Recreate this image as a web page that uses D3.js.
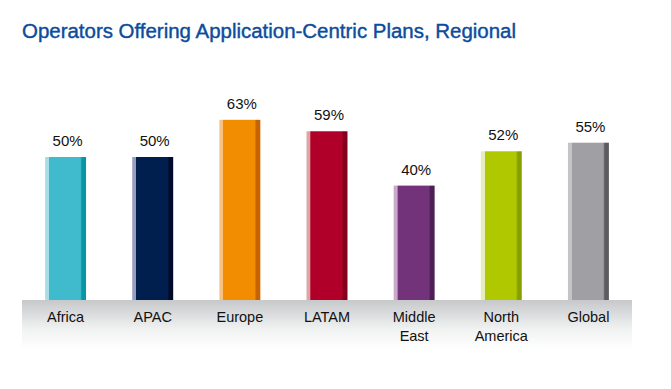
<!DOCTYPE html>
<html><head><meta charset="utf-8">
<script src="https://cdn.jsdelivr.net/npm/d3@7/dist/d3.min.js"></script>
<style>body{margin:0;background:#fff}svg{display:block}</style>
</head><body>
<svg id="c" width="671" height="389"></svg>
<script>
const categories = ["Africa","APAC","Europe","LATAM","Middle East","North America","Global"];
const categoryLines = [["Africa"],["APAC"],["Europe"],["LATAM"],["Middle","East"],["North","America"],["Global"]];
const values = [50,50,63,59,40,52,55];
const mainColors = ["#3fbbcd","#001f4f","#f28c00","#b0002a","#72337a","#afc800","#a0a0a4"];
const lightColors = ["#a9dde5","#9a9cbf","#f7c27f","#dfa5a5","#c9aac9","#e6eebf","#c4c4c7"];
const darkColors = ["#0a95a5","#000b2c","#c86400","#82001c","#4e1f55","#86a000","#5c5c60"];

const svg = d3.select("#c");
const x = d3.scaleBand().domain(categories).range([22,632]).paddingInner(0.53).paddingOuter(0.265);
const y = d3.scaleLinear().domain([0,100]).range([300,14]);

const defs = svg.append("defs");
const bg = defs.append("linearGradient").attr("id","band").attr("x1",0).attr("y1",0).attr("x2",0).attr("y2",1);
bg.append("stop").attr("offset",0).attr("stop-color","#c7c8ca");
bg.append("stop").attr("offset",0.6).attr("stop-color","#f1f2f2");
bg.append("stop").attr("offset",1).attr("stop-color","#ffffff");

categories.forEach((c,i)=>{
  const g = defs.append("linearGradient").attr("id","g"+i).attr("x1",0).attr("x2",1).attr("y1",0).attr("y2",0);
  g.append("stop").attr("offset",0).attr("stop-color",lightColors[i]);
  g.append("stop").attr("offset",0.09).attr("stop-color",lightColors[i]);
  g.append("stop").attr("offset",0.1).attr("stop-color",mainColors[i]);
  g.append("stop").attr("offset",0.86).attr("stop-color",mainColors[i]);
  g.append("stop").attr("offset",0.9).attr("stop-color",darkColors[i]);
  g.append("stop").attr("offset",1).attr("stop-color",darkColors[i]);
});

svg.append("text").attr("x",22).attr("y",38)
  .attr("font-family","Liberation Sans, Arial, sans-serif").attr("font-size",20)
  .attr("fill","#0b4c9c").attr("stroke","#0b4c9c").attr("stroke-width",0.4)
  .attr("textLength",494).attr("lengthAdjust","spacingAndGlyphs")
  .text("Operators Offering Application-Centric Plans, Regional");

svg.append("rect").attr("x",22).attr("y",300).attr("width",610).attr("height",49).attr("fill","url(#band)");

svg.selectAll("rect.bar").data(values).join("rect").attr("class","bar")
  .attr("x",(d,i)=>x(categories[i])).attr("width",x.bandwidth())
  .attr("y",d=>y(d)).attr("height",d=>y(0)-y(d))
  .attr("fill",(d,i)=>"url(#g"+i+")");

svg.selectAll("text.val").data(values).join("text").attr("class","val")
  .attr("x",(d,i)=>x(categories[i])+x.bandwidth()/2+2).attr("y",d=>y(d)-11)
  .attr("text-anchor","middle").attr("font-family","Liberation Sans, Arial, sans-serif")
  .attr("font-size",15).attr("fill","#111").text(d=>d+"%");

const labs = svg.selectAll("text.cat").data(categoryLines).join("text").attr("class","cat")
  .attr("text-anchor","middle").attr("font-family","Liberation Sans, Arial, sans-serif")
  .attr("font-size",14.5).attr("fill","#111");
labs.each(function(lines,i){
  const t = d3.select(this);
  lines.forEach((l,j)=>{
    t.append("tspan").attr("x",x(categories[i])+x.bandwidth()/2).attr("y",322+j*19).text(l);
  });
});
</script>
</body></html>
